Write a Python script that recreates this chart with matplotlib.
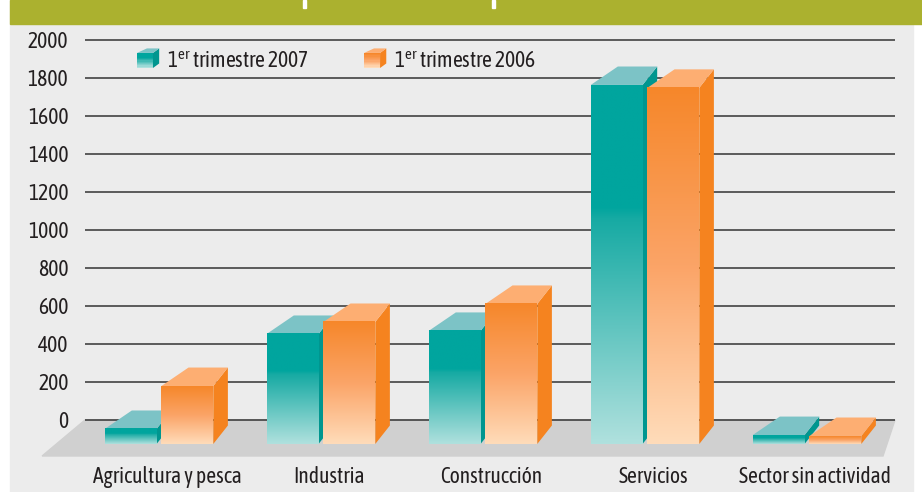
import numpy as np
import matplotlib
matplotlib.use('Agg')
from matplotlib import pyplot as plt
from matplotlib.patches import Polygon, Rectangle
from matplotlib.colors import LinearSegmentedColormap
from matplotlib.legend_handler import HandlerBase

FONT = 'Asap Condensed'
plt.rcParams['font.family'] = [FONT, 'DejaVu Sans']
plt.rcParams['mathtext.fontset'] = 'custom'
plt.rcParams['mathtext.rm'] = FONT
plt.rcParams['mathtext.it'] = FONT

# data (front-face heights)
categories = ['Agricultura y pesca', 'Industria', 'Construcción', 'Servicios', 'Sector sin actividad']
t2007 = [79, 579, 595, 1889, 47]
t2006 = [305, 642, 737, 1874, 42]
series_labels = ['1$^{\\mathrm{er}}$ trimestre 2007', '1$^{\\mathrm{er}}$ trimestre 2006']
yticks = [0, 200, 400, 600, 800, 1000, 1200, 1400, 1600, 1800, 2000]

txt = '#231f20'
FS = 15.5
teal = LinearSegmentedColormap.from_list('teal', [(0, '#b0e1de'), (0.63, '#16aaa3'), (0.66, '#00a59e'), (1, '#00a59e')])
orange = LinearSegmentedColormap.from_list('orange', [(0, '#ffdcba'), (0.5, '#fba467'), (1, '#f6872a')])
styles = [(teal, '#7cc3c6', '#00968f'), (orange, '#fdae72', '#f5831f')]

# 3d look
BASE = -126      # front bottom of the bars
DY = 97          # depth, value units
DXL, DXR = 0.167, 0.09
BW = 0.32
OFFS = [-0.335, 0.015]
XL = (-0.457, 4.543)
YL = (-189.5, 2010)

W, H = 922, 492
fig = plt.figure(figsize=(W/100, H/100), dpi=100)
fig.patches.append(Rectangle((10/W, 0), 903/W, 1, transform=fig.transFigure, color='#ececec', zorder=-5))
fig.patches.append(Rectangle((10/W, 1-24/H), 1, 24/H, transform=fig.transFigure, color='#abb12f', zorder=-4))
for px in [303, 492]:
    fig.patches.append(Rectangle((px/W, 1-8/H), 3/W, 8/H, transform=fig.transFigure, color='white', zorder=-3))

ax = fig.add_axes([85/W, 1-456/H, 810/W, 418/H])
ax.patch.set_visible(False)
for s in ax.spines.values():
    s.set_visible(False)

# floor
ax.add_patch(Polygon([(XL[0], 0), (XL[1], 0), (XL[1]-0.074, YL[0]), (XL[0]-0.265, YL[0])],
                     closed=True, color='#d0d0d0', clip_on=False, zorder=1))
ax.hlines(yticks, XL[0], XL[1], color='#333333', lw=1.1, clip_on=False, zorder=2)

def bar3d(x0, v, st, z):
    cmap, topc, sidec = st
    top = BASE + v
    x1 = x0 + BW
    ax.add_patch(Polygon([(x1, BASE), (x1, top), (x1+DXR, top+DY), (x1+DXR, BASE+DY)],
                         closed=True, color=sidec, lw=0, zorder=z))
    ax.add_patch(Polygon([(x0, top), (x1, top), (x1+DXR, top+DY), (x0+DXL, top+DY)],
                         closed=True, color=topc, lw=0, zorder=z))
    grad = np.linspace(0, 1, 256).reshape(-1, 1)
    ax.imshow(grad, extent=[x0, x1, BASE, top], origin='lower', cmap=cmap,
              aspect='auto', interpolation='bilinear', zorder=z)

z = 3
for i in range(len(categories)):
    for k, vals in enumerate([t2007, t2006]):
        bar3d(i + OFFS[k], vals[i], styles[k], z)
        z += 1

ax.set_xlim(*XL)
ax.set_ylim(*YL)
ax.set_yticks(yticks)
ax.set_xticks(np.arange(len(categories)) + 0.05, categories)
ax.tick_params(axis='y', length=0, pad=12, labelsize=FS, labelcolor=txt)
ax.tick_params(axis='x', length=0, pad=7, labelsize=FS, labelcolor=txt)

class CubeHandler(HandlerBase):
    def __init__(self, st):
        super().__init__()
        self.st = st
    def create_artists(self, legend, orig_handle, xdescent, ydescent, width, height, fontsize, trans):
        cmap, topc, sidec = self.st
        x0, y0 = -xdescent, -ydescent
        fw = width * 0.72
        dy = height * 0.3
        arts = []
        n = 12
        for j in range(n):
            arts.append(Rectangle((x0, y0 + height*j/n), fw, height/n + 0.3,
                                  color=cmap(j/(n-1)), lw=0, transform=trans))
        arts.append(Polygon([(x0+fw, y0), (x0+fw, y0+height), (x0+width, y0+height+dy), (x0+width, y0+dy)],
                            closed=True, color=sidec, lw=0, transform=trans))
        arts.append(Polygon([(x0, y0+height), (x0+fw, y0+height), (x0+width, y0+height+dy), (x0+(width-fw)*1.6, y0+height+dy)],
                            closed=True, color=topc, lw=0, transform=trans))
        return arts

handles = [Rectangle((0, 0), 1, 1), Rectangle((0, 0), 1, 1)]
ax.legend(handles, series_labels, ncol=2, frameon=False, fontsize=FS,
          handler_map={handles[0]: CubeHandler(styles[0]), handles[1]: CubeHandler(styles[1])},
          handlelength=1.03, handleheight=0.7, handletextpad=0.37, columnspacing=2.55,
          borderpad=0, borderaxespad=0, loc='center left',
          bbox_to_anchor=(137/W, 1-62/H), bbox_transform=fig.transFigure, labelcolor=txt)

fig.savefig('out.png', dpi=100)
